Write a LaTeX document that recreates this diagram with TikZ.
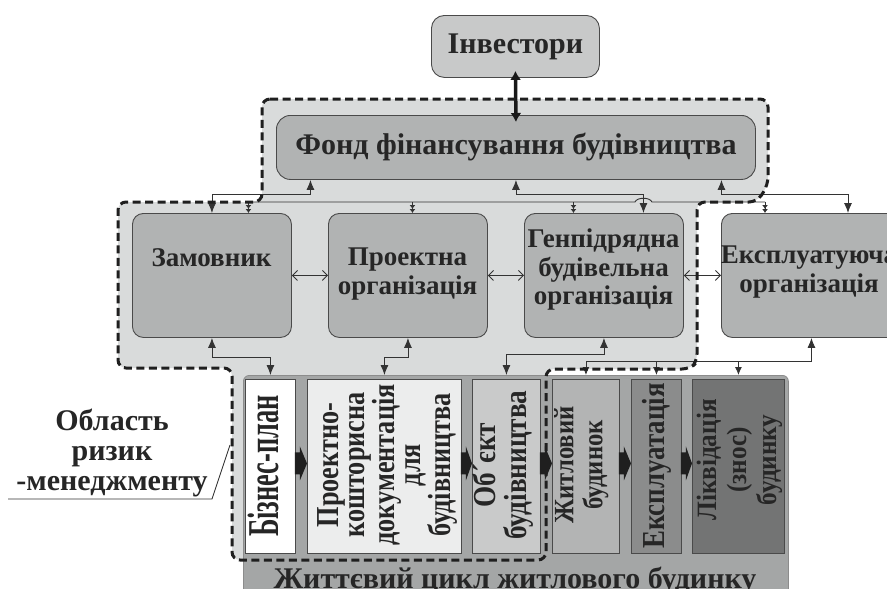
\documentclass[tikz,border=0pt]{standalone}
\usepackage{fontspec}
\setmainfont{Liberation Serif}
\usetikzlibrary{arrows.meta,calc}
\definecolor{txt}{HTML}{262626}
\definecolor{regionfill}{HTML}{D9DBDB}
\definecolor{boxfill}{HTML}{B1B3B3}
\definecolor{boxline}{HTML}{4A4A4A}
\definecolor{invfill}{HTML}{C8C9C9}
\definecolor{panelfill}{HTML}{A4A6A6}
\definecolor{linec}{HTML}{333333}
\definecolor{fbiz}{HTML}{FFFFFF}
\definecolor{fpkd}{HTML}{ECEDED}
\definecolor{fobj}{HTML}{C9CACA}
\definecolor{fzhyt}{HTML}{B3B4B4}
\definecolor{fexpl}{HTML}{8B8C8C}
\definecolor{flikv}{HTML}{737474}
\newcommand\vtxt[4]{\scalebox{#3}[1]{\fontsize{#1}{#2}\selectfont\bfseries\begin{tabular}{@{}c@{}}#4\end{tabular}}}
\newcommand\chev[2]{\fill[black!88] ($(#1.east)+(-1,-14)$) -- ($(#1.east)+(4,-14)$) -- ($(#1.east)+(4,-20)$) -- ($(#2.west)+(0,-3)$) -- ($(#1.east)+(4,14)$) -- ($(#1.east)+(4,8)$) -- ($(#1.east)+(-1,8)$) -- cycle;}
\newcommand\regionpath{(262,99) -- (768,99) -- (768,185) -- (757,202) -- (697,202) -- (697,362) -- (690,369) -- (546,369) -- (546,560) -- (232,560) -- (232,368) -- (118,368) -- (118,202) -- (262,202) -- cycle}
\begin{document}
\begin{tikzpicture}[x=1pt,y=-1pt,
  box/.style={draw=boxline, fill=boxfill, line width=0.9pt, rounded corners=11pt, inner sep=0pt},
  lbl/.style={text=txt, font=\fontsize{27}{28.5}\selectfont\bfseries, align=center, inner sep=0pt},
  big/.style={text=txt, font=\fontsize{30}{32}\selectfont\bfseries, inner sep=0pt},
  ibox/.style={draw=boxline, line width=0.9pt, inner sep=0pt, minimum height=174pt, anchor=north west},
  vt/.style={text=txt, rotate=90, inner sep=0pt},
  conn/.style={draw=linec, line width=0.9pt},
  bb/.style={conn, {Latex[length=10pt,width=8pt]}-{Latex[length=10pt,width=8pt]}},
  bs/.style={conn, {Latex[length=10pt,width=8pt]}-},
  sm/.style={conn, -{Latex[length=4pt,width=6pt] Latex[length=4pt,width=6pt]}},
  ds/.style={conn, -{Latex[length=8pt,width=7pt]}},
  hh/.style={conn, {Straight Barb[length=5pt,width=10pt]}-{Straight Barb[length=5pt,width=10pt]}},
  regdash/.style={draw=black!88, line width=3pt, dash pattern=on 8pt off 4.5pt, rounded corners=8pt}
]
\useasboundingbox (0,0) rectangle (887,589);
\clip (0,0) rectangle (887,589);
\fill[white] (0,0) rectangle (887,589);
% risk region fill
\fill[regionfill, rounded corners=8pt] \regionpath;
% top nodes
\node[box, fill=invfill, minimum width=168pt, minimum height=62pt, rounded corners=13pt, anchor=north west] (inv) at (431,15) {};
\node[big] (invt) at (inv.center) {Інвестори};
\node[box, minimum width=479pt, minimum height=64pt, rounded corners=14pt, anchor=north west] (fond) at (276,115) {};
\node[big] (fondt) at (fond.center) {Фонд фінансування будівництва};
% second row
\node[box, minimum width=159pt, minimum height=124pt, anchor=north west] (zam) at (132,213) {};
\node[box, minimum width=159pt, minimum height=124pt, anchor=north west] (proj) at (328,213) {};
\node[box, minimum width=159pt, minimum height=124pt, anchor=north west] (gen) at (524,213) {};
\node[box, minimum width=180pt, minimum height=124pt, anchor=north west] (expl) at (721,213) {};
\node[lbl] (zamt) at (211.5,258) {Замовник};
\node[lbl] (projt) at (407.5,274) {Проектна\\організація};
\node[lbl] (gent) at (603.5,270) {Генпідрядна\\будівельна\\організація};
\node[lbl] (explt) at (809,272) {Експлуатуюча\\організація};
% life-cycle panel
\node[draw=black!45, fill=panelfill, line width=0.8pt, rounded corners=6pt, minimum width=545pt, minimum height=240pt, anchor=north west, inner sep=0pt] (panel) at (243,375) {};
\node[ibox, fill=fbiz, minimum width=50pt] (biz) at (245,379) {};
\node[ibox, fill=fpkd, minimum width=154pt] (pkd) at (307,379) {};
\node[ibox, fill=fobj, minimum width=68pt] (obj) at (472,379) {};
\node[ibox, fill=fzhyt, minimum width=67pt] (zhyt) at (552,379) {};
\node[ibox, fill=fexpl, minimum width=50pt] (explc) at (631,379) {};
\node[ibox, fill=flikv, minimum width=92pt] (likv) at (692,379) {};
\node[vt] (bizt) at (270,466) {\vtxt{44}{44}{0.6}{Бізнес-план}};
\node[vt] (pkdt) at (388,465) {\vtxt{32}{26}{0.82}{Проектно-\\кошторисна\\документація\\для\\будівництва}};
\node[vt] (objt) at (504,465) {\vtxt{32}{28}{0.85}{Об´єкт\\будівництва}};
\node[vt] (zhytt) at (582,465) {\vtxt{28}{29}{0.88}{Житловий\\будинок}};
\node[vt] (explct) at (658,466) {\vtxt{32}{32}{0.84}{Експлуатація}};
\node[vt] (likvt) at (740,460) {\vtxt{28}{30}{0.9}{Ліквідація\\(знос)\\будинку}};
\chev{biz}{pkd}
\chev{pkd}{obj}
\chev{obj}{zhyt}
\chev{zhyt}{explc}
\chev{explc}{likv}
\node[big, anchor=base] (cap) at (515,588) {Життєвий цикл житлового будинку};
% left label
\node[big, align=center, font=\fontsize{30}{30}\selectfont\bfseries] (area) at (112,453) {Область\\ризик\\-менеджменту};
\coordinate (c1) at (8,499);
\coordinate (c2) at (212,499);
\coordinate (c3) at (230,445);
\draw[conn] (c1) -- (c2) -- (c3);
% investors <-> fund
\draw[draw=black!90, line width=3.5pt, {Latex[length=9pt,width=11pt]}-{Latex[length=9pt,width=11pt]}] ([yshift=7pt]inv.south) -- ([yshift=-7pt]fond.north);
% fund <-> second row
\draw[bb] (zam.north) |- ($(fond.south)+(-205.5,15)$) -- ($(fond.south)+(-205.5,0)$);
\draw[bb] ($(gen.north)+(39.5,0)$) |- ($(fond.south)+(0,15)$) -- (fond.south);
\draw[bb] ($(expl.north west)+(127,0)$) |- ($(fond.south)+(205.5,15)$) -- ($(fond.south)+(205.5,0)$);
% distribution bus
\coordinate (b1) at ($(zam.north)+(36.5,-11)$);
\coordinate (b4) at ($(expl.north west)+(44,-11)$);
\draw[conn] (b1) -- ($(gen.north)+(31,-11)$) .. controls +(2,-5) and +(-2,-5) .. ($(gen.north)+(48,-11)$) -- (b4);
\draw[sm] (b1) -- (b1 |- zam.north);
\draw[sm] ($(proj.north)+(4.5,-11)$) -- ($(proj.north)+(4.5,0)$);
\draw[sm] ($(gen.north)+(-30.5,-11)$) -- ($(gen.north)+(-30.5,0)$);
\draw[sm] (b4) -- (b4 |- expl.north);
% horizontal links
\draw[hh] (zam.east) -- (proj.west);
\draw[hh] (proj.east) -- (gen.west);
\draw[hh] (gen.east) -- (expl.west);
% second row <-> life cycle
\draw[bb] (zam.south) |- ($(biz.north)+(0,-22)$) -- ($(biz.north)+(0,-4)$);
\draw[bb] (proj.south) |- ($(pkd.north)+(0,-22)$) -- ($(pkd.north)+(0,-4)$);
\draw[bb] (gen.south) |- ($(obj.north)+(0,-25)$) -- ($(obj.north)+(0,-4)$);
\coordinate (e1) at ($(zhyt.north)+(0,-18)$);
\draw[bs] (expl.south) |- (e1);
\draw[ds] (e1) -- ($(zhyt.north)+(0,-4)$);
\draw[ds] (e1 -| explc.north) -- ($(explc.north)+(0,-4)$);
\draw[ds] (e1 -| likv.north) -- ($(likv.north)+(0,-4)$);
% dashed outline of risk area
\draw[regdash] \regionpath;
\end{tikzpicture}
\end{document}
